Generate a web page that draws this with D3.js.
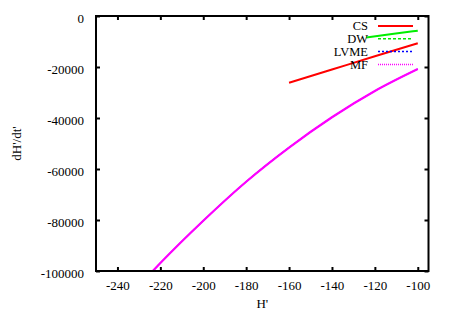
<!DOCTYPE html>
<html>
<head>
<meta charset="utf-8">
<script src="https://cdn.jsdelivr.net/npm/d3@7"></script>
<style>
  body { margin: 0; background: #fff; }
  svg { display: block; font-family: "Liberation Serif", "Times New Roman", serif; }
</style>
</head>
<body>
<div id="chart"></div>
<script>
// values
const csH = [-160, -140, -120, -100];
const csRate = [-26200, -21000, -15800, -10700];

const dwH = [-124, -112, -100];
const dwRate = [-8400, -7100, -5750];

// LVME is hidden under MF in the reference
const lvmeH = [-225, -220, -200, -180, -160, -140, -120, -100];
const lvmeRate = [-101300, -96900, -80300, -65000, -51600, -39700, -29400, -20800];

const mfH = [-225, -220, -200, -180, -160, -140, -120, -100];
const mfRate = [-101300, -96900, -80300, -65000, -51600, -39700, -29400, -20800];

const xTicks = [-240, -220, -200, -180, -160, -140, -120, -100];
const yTicks = [0, -20000, -40000, -60000, -80000, -100000];

const width = 449, height = 314;
const margin = { left: 96, right: 20.5, top: 16, bottom: 43 };

const svg = d3.select("#chart").append("svg")
  .attr("width", width)
  .attr("height", height);

const x = d3.scaleLinear().domain([-250, -95]).range([margin.left, width - margin.right]);
const y = d3.scaleLinear().domain([-100000, 0]).range([height - margin.bottom, margin.top]);

svg.append("clipPath").attr("id", "plotClip")
  .append("rect")
  .attr("x", margin.left).attr("y", margin.top)
  .attr("width", width - margin.left - margin.right)
  .attr("height", height - margin.top - margin.bottom);

const series = [
  { name: "CS", h: csH, v: csRate, color: "#ff0000", dash: null, lw: 2 },
  { name: "DW", h: dwH, v: dwRate, color: "#00ee00", dash: "3,2", lw: 2 },
  { name: "LVME", h: lvmeH, v: lvmeRate, color: "#0000ff", dash: "1.5,1.5", lw: 1.2 },
  { name: "MF", h: mfH, v: mfRate, color: "#ff00ff", dash: "1,1", lw: 2.2 }
];

const line = d3.line()
  .x(d => x(d[0]))
  .y(d => y(d[1]))
  .curve(d3.curveMonotoneX);

const plot = svg.append("g").attr("clip-path", "url(#plotClip)");
series.forEach(s => {
  plot.append("path")
    .datum(s.h.map((h, i) => [h, s.v[i]]))
    .attr("fill", "none")
    .attr("stroke", s.color)
    .attr("stroke-width", s.lw)
    .attr("d", line);
});

// axes, ticks pointing inward like gnuplot
const tickLen = 4;
svg.append("g")
  .attr("transform", "translate(0," + y.range()[0] + ")")
  .call(d3.axisBottom(x).tickValues(xTicks).tickSizeInner(-tickLen).tickSizeOuter(0).tickPadding(10))
  .call(g => g.select(".domain").remove())
  .call(g => g.selectAll("line").attr("stroke-width", 2))
  .selectAll("text")
  .style("font-size", "13px")
  .style("font-family", "Liberation Serif")
  .text(d => d);

svg.append("g")
  .attr("transform", "translate(0," + y.range()[1] + ")")
  .call(d3.axisTop(x).tickValues(xTicks).tickSizeInner(-tickLen).tickSizeOuter(0).tickFormat(""))
  .call(g => g.select(".domain").remove())
  .call(g => g.selectAll("line").attr("stroke-width", 2));

svg.append("g")
  .attr("transform", "translate(" + x.range()[0] + ",0)")
  .call(d3.axisLeft(y).tickValues(yTicks).tickSizeInner(-tickLen).tickSizeOuter(0).tickPadding(12))
  .call(g => g.select(".domain").remove())
  .call(g => g.selectAll("line").attr("stroke-width", 2))
  .selectAll("text")
  .style("font-size", "13px")
  .style("font-family", "Liberation Serif")
  .attr("dy", "0.5em")
  .text(d => d);

svg.append("g")
  .attr("transform", "translate(" + x.range()[1] + ",0)")
  .call(d3.axisRight(y).tickValues(yTicks).tickSizeInner(-tickLen).tickSizeOuter(0).tickFormat(""))
  .call(g => g.select(".domain").remove())
  .call(g => g.selectAll("line").attr("stroke-width", 2));

// frame
svg.append("rect")
  .attr("x", x.range()[0]).attr("y", y.range()[1])
  .attr("width", x.range()[1] - x.range()[0])
  .attr("height", y.range()[0] - y.range()[1])
  .attr("fill", "none")
  .attr("stroke", "#000")
  .attr("stroke-width", 2);

// axis titles
svg.append("text")
  .attr("x", (x.range()[0] + x.range()[1]) / 2)
  .attr("y", 308)
  .attr("text-anchor", "middle")
  .style("font-size", "13px")
  .text("H'");

svg.append("text")
  .attr("transform", "translate(21," + (y.range()[0] + y.range()[1]) / 2 + ") rotate(-90)")
  .attr("text-anchor", "middle")
  .style("font-size", "13px")
  .text("dH'/dt'");

// legend
const legend = svg.append("g");
series.forEach((s, i) => {
  const ly = 26 + i * 12.8;
  legend.append("text")
    .attr("x", 368)
    .attr("y", ly)
    .attr("dy", "0.35em")
    .attr("text-anchor", "end")
    .style("font-size", "12.5px")
    .text(s.name);
  legend.append("line")
    .attr("x1", 378).attr("x2", 413)
    .attr("y1", ly).attr("y2", ly)
    .attr("stroke", s.color)
    .attr("stroke-width", s.dash ? 1.5 : 2)
    .attr("stroke-dasharray", s.name === "LVME" ? "2,2" : s.dash);
});
</script>
</body>
</html>
